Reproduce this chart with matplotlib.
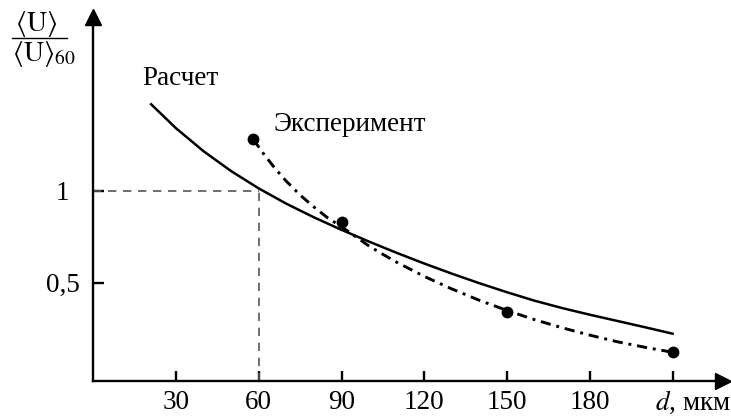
import matplotlib
matplotlib.use('Agg')
import matplotlib.pyplot as plt
from matplotlib.lines import Line2D

plt.rcParams['font.family'] = ['Liberation Serif', 'DejaVu Serif']
plt.rcParams['mathtext.fontset'] = 'stix'

# calculated curve (solid)
calc_d = [21, 30, 40, 50, 60, 70, 80, 90, 100, 110, 120, 130, 140, 150, 160, 170, 180, 190, 200, 210]
calc_u = [1.47, 1.34, 1.215, 1.107, 1.013, 0.93, 0.856, 0.788, 0.724, 0.663, 0.605, 0.55, 0.498,
          0.449, 0.403, 0.363, 0.327, 0.293, 0.259, 0.224]

# experiment points and the dash-dot curve through them
exp_d = [58, 90, 150, 210]
exp_u = [1.28, 0.83, 0.344, 0.123]
fit_d = [58, 62, 66, 70, 75, 80, 85, 90, 95, 100, 105, 110, 120, 130, 140, 150, 160, 170, 180,
         190, 200, 210]
fit_u = [1.28, 1.196, 1.12, 1.052, 0.977, 0.912, 0.853, 0.805, 0.752, 0.70, 0.655, 0.612, 0.535,
         0.467, 0.405, 0.35, 0.30, 0.256, 0.216, 0.18, 0.15, 0.123]

x_ticks = [30, 60, 90, 120, 150, 180, 210]
x_labels = ['30', '60', '90', '120', '150', '180', '']
y_ticks = [0.5, 1]
y_labels = ['0,5', '1']

W, H = 731, 417
fig = plt.figure(figsize=(W / 100, H / 100), dpi=100)
ax = fig.add_axes([93.2 / W, 36 / H, (723 - 93.2) / W, (381 - 17) / H])
ax.set_xlim(0, (723 - 93.2) / 2.759)
ax.set_ylim(-0.033, (374.7 - 17) / 184)

# guide lines to (60, 1)
ax.plot([0, 60], [1, 1], color='#555555', lw=1.2, dashes=(5, 4))
ax.plot([60, 60], [-0.033, 1], color='#555555', lw=1.2, dashes=(5, 4))

ax.plot(calc_d, calc_u, color='black', lw=1.8)
ax.plot(fit_d, fit_u, color='black', lw=2.1, dashes=(3.5, 2, 1, 2))
ax.plot(exp_d, exp_u, 'o', color='black', ms=7.5)

ax.text(17.7, 1.574, 'Расчет', fontsize=19.5, va='baseline')
ax.text(65.2, 1.326, 'Эксперимент', fontsize=19.5, va='baseline')

for s in ['top', 'right']:
    ax.spines[s].set_visible(False)
for s in ['left', 'bottom']:
    ax.spines[s].set_linewidth(1.7)
ax.plot(1, 0, '>', color='black', ms=11, transform=ax.transAxes, clip_on=False)
ax.plot(0, 1, '^', color='black', ms=11, transform=ax.transAxes, clip_on=False)

ax.set_xticks(x_ticks)
ax.set_xticklabels(x_labels)
ax.set_yticks(y_ticks)
ax.set_yticklabels(y_labels)
ax.tick_params(axis='x', direction='in', length=7, width=1.7, labelsize=19.5, pad=6.5)
ax.tick_params(axis='y', direction='in', length=8, width=1.7, labelsize=19.5, pad=22)
for lab in ax.get_yticklabels():
    lab.set_horizontalalignment('center')

ax.annotate('$d$, мкм', xy=(210, 0), xycoords=('data', 'axes fraction'),
            xytext=(-13, -5.5), textcoords='offset points', fontsize=19.5, ha='left', va='top')

# y axis label as a fraction
fig.text(36 / W, 1 - 24 / H, r'$\langle\mathrm{U}\rangle$', fontsize=20, ha='center', va='center')
fig.text(12 / W, 1 - 54 / H, r'$\langle\mathrm{U}\rangle_{60}$', fontsize=20, ha='left', va='center')
fig.add_artist(Line2D([12 / W, 67 / W], [1 - 37.7 / H, 1 - 37.7 / H], color='black', lw=1))

fig.savefig('out.png', dpi=100)
